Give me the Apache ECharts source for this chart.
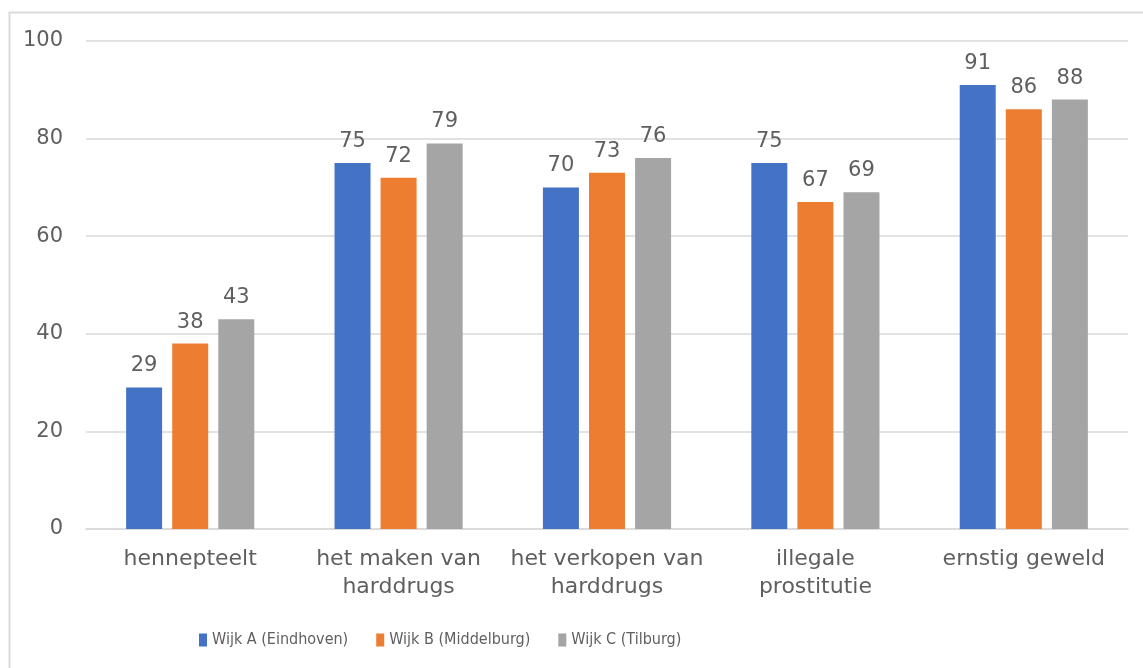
<!DOCTYPE html>
<html>
<head>
<meta charset="utf-8">
<script src="https://cdn.jsdelivr.net/npm/echarts@6/dist/echarts.min.js"></script>
<style>
  html, body { margin: 0; padding: 0; background: #fff; }
  #chart { width: 1143px; height: 668px; }
</style>
</head>
<body>
<div id="chart"></div>
<script>
  // data
  const categories = [
    "hennepteelt",
    "het maken van\nharddrugs",
    "het verkopen van\nharddrugs",
    "illegale\nprostitutie",
    "ernstig geweld"
  ];
  const wijkA = [29, 75, 70, 75, 91];
  const wijkB = [38, 72, 73, 67, 86];
  const wijkC = [43, 79, 76, 69, 88];
  const seriesNames = ["Wijk A (Eindhoven)", "Wijk B (Middelburg)", "Wijk C (Tilburg)"];
  const colors = ["#4472c4", "#ed7d31", "#a5a5a5"];

  const font = "'DejaVu Sans', sans-serif";
  const legendFont = "'DejaVu Sans Condensed', 'DejaVu Sans', sans-serif";
  const textColor = "#5f5f5f";

  const chart = echarts.init(document.getElementById("chart"));
  const makeSeries = (name, data, color) => ({
    name: name,
    type: "bar",
    data: data,
    barWidth: 36,
    barGap: "28%",
    itemStyle: { color: color },
    label: {
      show: true,
      position: "top",
      distance: 11,
      color: textColor,
      fontFamily: font,
      fontSize: 21
    }
  });

  chart.setOption({
    animation: false,
    color: colors,
    graphic: [{
      type: "rect",
      left: 7,
      top: 10,
      shape: { width: 1160, height: 680 },
      style: { fill: "none", stroke: "#d9d9d9", lineWidth: 2 },
      silent: true
    }],
    grid: { left: 86, right: 15, top: 41, bottom: 139 },
    legend: {
      top: 627,
      left: 194,
      itemWidth: 8,
      itemHeight: 13,
      itemGap: 28,
      icon: "rect",
      textStyle: { color: textColor, fontFamily: legendFont, fontSize: 16 },
      data: seriesNames
    },
    xAxis: {
      type: "category",
      data: categories,
      axisLine: { lineStyle: { color: "#d9d9d9", width: 1.5 } },
      axisTick: { show: false },
      axisLabel: {
        color: textColor,
        fontFamily: font,
        fontSize: 22,
        margin: 16,
        lineHeight: 28,
        interval: 0
      }
    },
    yAxis: {
      type: "value",
      min: 0,
      max: 100,
      interval: 20,
      axisLine: { show: false },
      axisTick: { show: false },
      splitLine: { lineStyle: { color: "#d9d9d9", width: 1.5 } },
      axisLabel: {
        color: textColor,
        fontFamily: font,
        fontSize: 21,
        margin: 23
      }
    },
    series: [
      makeSeries(seriesNames[0], wijkA, colors[0]),
      makeSeries(seriesNames[1], wijkB, colors[1]),
      makeSeries(seriesNames[2], wijkC, colors[2])
    ]
  });
</script>
</body>
</html>
